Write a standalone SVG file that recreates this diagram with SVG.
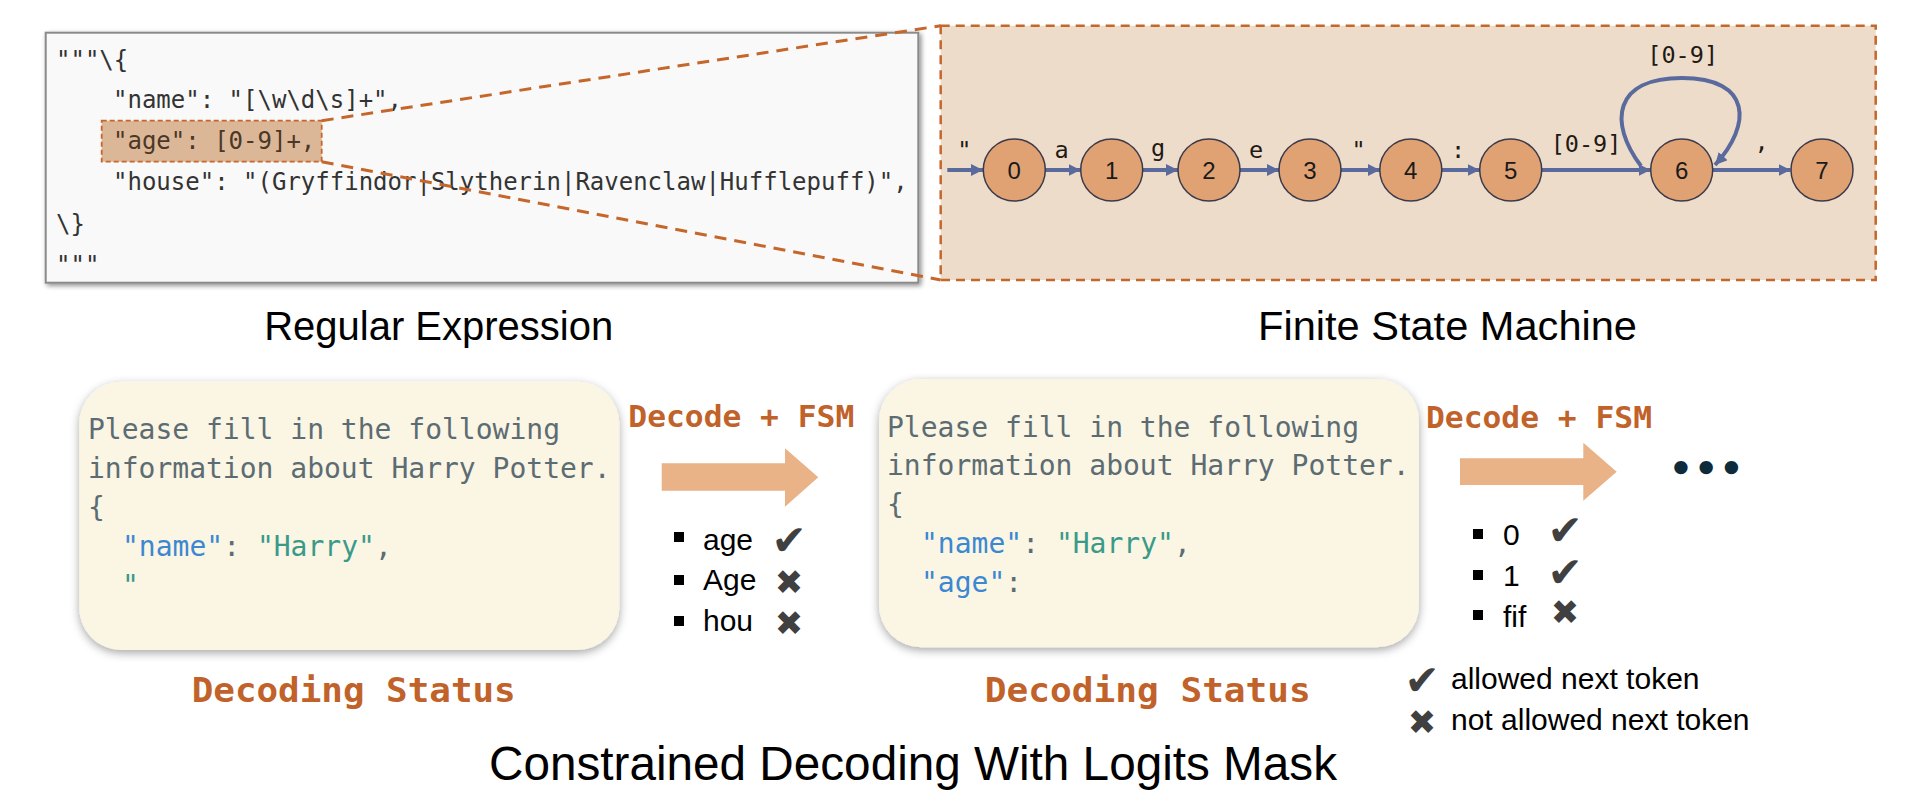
<svg xmlns="http://www.w3.org/2000/svg" width="1918" height="796" viewBox="0 0 1918 796">
  <defs>
    <style>
      .code { font-family: "DejaVu Sans Mono", "Liberation Mono", monospace; font-size: 24px; fill: #333333; }
      .prompt { font-family: "DejaVu Sans Mono", "Liberation Mono", monospace; font-size: 28px; fill: #5c6c73; }
      .blue { fill: #3b88d2; }
      .teal { fill: #3a9a8a; }
      .lbl { font-family: "DejaVu Sans Mono", "Liberation Mono", monospace; font-size: 23.5px; fill: #1f1a14; }
      .num { font-family: "Liberation Sans", Arial, sans-serif; font-size: 24px; fill: #1a1a1a; text-anchor: middle; }
      .orange { font-family: "DejaVu Sans Mono", "Liberation Mono", monospace; font-weight: bold; fill: #c0622a; }
      .head { font-family: "Liberation Sans", Arial, sans-serif; fill: #000000; text-anchor: middle; }
      .item { font-family: "Liberation Sans", Arial, sans-serif; font-size: 30px; fill: #000000; }
      .mark { font-family: "DejaVu Sans", sans-serif; fill: #404040; text-anchor: middle; }
      .chk { font-size: 42px; }
      .crs { font-size: 34px; }
      .node circle { fill: #e0a273; stroke: #3a3a4a; stroke-width: 1.5; }
      .edge { fill: none; stroke: #5a6a9c; stroke-width: 4; marker-end: url(#ah); }
      .zoomline { fill: none; stroke: #c5662a; stroke-width: 3; stroke-dasharray: 12 8; }
      .block { fill: #e9b387; }
      .bullet { fill: #000000; }
    </style>
    <marker id="ah" markerUnits="userSpaceOnUse" markerWidth="14" markerHeight="14" refX="12" refY="6" orient="auto">
      <path d="M0,0 L12,6 L0,12 z" fill="#5a6a9c"/>
    </marker>
    <filter id="sh1" x="-5%" y="-10%" width="110%" height="120%">
      <feDropShadow dx="2" dy="2" stdDeviation="2.5" flood-color="#000000" flood-opacity="0.45"/>
    </filter>
    <filter id="sh2" x="-10%" y="-10%" width="120%" height="125%">
      <feDropShadow dx="0" dy="3" stdDeviation="5" flood-color="#000000" flood-opacity="0.35"/>
    </filter>
  </defs>
  <rect x="0" y="0" width="1918" height="796" fill="#ffffff"/>

  <!-- Regular expression panel -->
  <g id="regex-box">
    <rect x="45.7" y="32.7" width="872.6" height="250" fill="#f9f9f9" stroke="#8a8a8a" stroke-width="2" filter="url(#sh1)"/>
    <rect x="101.7" y="120.7" width="220" height="41" fill="#dcb797" stroke="#c5662a" stroke-width="1.8" stroke-dasharray="5 3"/>
    <text class="code" x="56" y="68">"""\{</text>
    <text class="code" x="113" y="108">"name": "[\w\d\s]+",</text>
    <text class="code" x="113" y="149" style="fill:#4a3828">"age": [0-9]+,</text>
    <text class="code" x="113" y="190">"house": "(Gryffindor|Slytherin|Ravenclaw|Hufflepuff)",</text>
    <text class="code" x="56" y="232">\}</text>
    <text class="code" x="56" y="273">"""</text>
  </g>

  <!-- FSM panel -->
  <g id="fsm-box">
    <rect x="940.7" y="25.7" width="935" height="254.3" fill="#eedccb" stroke="#c5662a" stroke-width="2.5" stroke-dasharray="9 6"/>
  </g>

  <g id="connectors">
    <line class="zoomline" x1="321.7" y1="120.7" x2="940.7" y2="25.7"/>
    <line class="zoomline" x1="321.7" y1="161.7" x2="940.7" y2="280"/>
    <line class="edge" x1="947.3" y1="170" x2="983" y2="170"/>
    <line class="edge" x1="1045.3" y1="170" x2="1080.5" y2="170"/>
    <line class="edge" x1="1142.7" y1="170" x2="1178" y2="170"/>
    <line class="edge" x1="1240" y1="170" x2="1279" y2="170"/>
    <line class="edge" x1="1341" y1="170" x2="1379.8" y2="170"/>
    <line class="edge" x1="1441.8" y1="170" x2="1479.7" y2="170"/>
    <line class="edge" x1="1541.7" y1="170" x2="1650.5" y2="170"/>
    <path class="edge" d="M1641,166 C1608,122 1614,78 1682,78 C1752,78 1752,125 1715,165"/>
    <line class="edge" x1="1712.7" y1="170" x2="1790.5" y2="170"/>
    <text class="lbl" x="964.3" y="158" text-anchor="middle">"</text>
    <text class="lbl" x="1061.7" y="158" text-anchor="middle">a</text>
    <text class="lbl" x="1158" y="156" text-anchor="middle">g</text>
    <text class="lbl" x="1256" y="158" text-anchor="middle">e</text>
    <text class="lbl" x="1358.5" y="158" text-anchor="middle">"</text>
    <text class="lbl" x="1458" y="158" text-anchor="middle">:</text>
    <text class="lbl" x="1586" y="152" text-anchor="middle">[0-9]</text>
    <text class="lbl" x="1682.7" y="63" text-anchor="middle">[0-9]</text>
    <text class="lbl" x="1761.7" y="150" text-anchor="middle">,</text>
  </g>

  <g id="node-0" class="node"><circle cx="1014.3" cy="170" r="31"/><text class="num" x="1014.3" y="178.5">0</text></g>
  <g id="node-1" class="node"><circle cx="1111.7" cy="170" r="31"/><text class="num" x="1111.7" y="178.5">1</text></g>
  <g id="node-2" class="node"><circle cx="1209" cy="170" r="31"/><text class="num" x="1209" y="178.5">2</text></g>
  <g id="node-3" class="node"><circle cx="1310" cy="170" r="31"/><text class="num" x="1310" y="178.5">3</text></g>
  <g id="node-4" class="node"><circle cx="1410.8" cy="170" r="31"/><text class="num" x="1410.8" y="178.5">4</text></g>
  <g id="node-5" class="node"><circle cx="1510.7" cy="170" r="31"/><text class="num" x="1510.7" y="178.5">5</text></g>
  <g id="node-6" class="node"><circle cx="1681.7" cy="170" r="31"/><text class="num" x="1681.7" y="178.5">6</text></g>
  <g id="node-7" class="node"><circle cx="1822" cy="170" r="31"/><text class="num" x="1822" y="178.5">7</text></g>

  <g id="headings">
    <text class="head" x="438.7" y="340" font-size="40" textLength="349" lengthAdjust="spacingAndGlyphs">Regular Expression</text>
    <text class="head" x="1447.5" y="340" font-size="40" textLength="379" lengthAdjust="spacingAndGlyphs">Finite State Machine</text>
    <text class="head" x="913" y="780" font-size="48" textLength="848" lengthAdjust="spacingAndGlyphs">Constrained Decoding With Logits Mask</text>
  </g>

  <!-- Decoding status 1 -->
  <g id="status-1">
    <rect x="79.3" y="381.7" width="540" height="268.3" rx="42" ry="42" fill="#fbf5e3" filter="url(#sh2)"/>
    <text class="prompt" x="88" y="439">Please fill in the following</text>
    <text class="prompt" x="88" y="478">information about Harry Potter.</text>
    <text class="prompt" x="88" y="517">{</text>
    <text class="prompt" x="122" y="556" xml:space="preserve"><tspan class="blue">"name"</tspan>: <tspan class="teal">"Harry"</tspan>,</text>
    <text class="prompt teal" x="122" y="595">"</text>
    <text class="orange" x="191.7" y="702" font-size="34" textLength="324" lengthAdjust="spacingAndGlyphs">Decoding Status</text>
  </g>

  <g id="step-1">
    <text class="orange" x="628.3" y="427" font-size="30" textLength="226" lengthAdjust="spacingAndGlyphs">Decode + FSM</text>
    <polygon class="block" points="661.7,463.3 785,463.3 785,448.3 818.3,477.3 785,506.7 785,490.7 661.7,490.7"/>
    <rect class="bullet" x="674" y="532" width="10" height="10"/>
    <rect class="bullet" x="674" y="575" width="10" height="10"/>
    <rect class="bullet" x="674" y="616" width="10" height="10"/>
    <text class="item" x="703" y="550">age</text>
    <text class="item" x="703" y="590">Age</text>
    <text class="item" x="703" y="631">hou</text>
    <text class="mark chk" x="789" y="555">✔</text>
    <text class="mark crs" x="789" y="594">✖</text>
    <text class="mark crs" x="789" y="635">✖</text>
  </g>

  <!-- Decoding status 2 -->
  <g id="status-2">
    <rect x="879" y="379" width="540" height="268.3" rx="42" ry="42" fill="#fbf5e3" filter="url(#sh2)"/>
    <text class="prompt" x="887" y="437">Please fill in the following</text>
    <text class="prompt" x="887" y="475">information about Harry Potter.</text>
    <text class="prompt" x="887" y="514">{</text>
    <text class="prompt" x="921" y="553" xml:space="preserve"><tspan class="blue">"name"</tspan>: <tspan class="teal">"Harry"</tspan>,</text>
    <text class="prompt" x="921" y="592"><tspan class="blue">"age"</tspan>:</text>
    <text class="orange" x="984.8" y="702" font-size="34" textLength="326" lengthAdjust="spacingAndGlyphs">Decoding Status</text>
  </g>

  <g id="step-2">
    <text class="orange" x="1426" y="428" font-size="30" textLength="226" lengthAdjust="spacingAndGlyphs">Decode + FSM</text>
    <polygon class="block" points="1460,458.3 1583.3,458.3 1583.3,442.7 1616.7,471.7 1583.3,500.7 1583.3,485 1460,485"/>
    <text x="1706.7" y="482" font-family="DejaVu Sans, sans-serif" font-size="38" font-weight="bold" fill="#0d2b3a" text-anchor="middle" letter-spacing="1">•••</text>
    <rect class="bullet" x="1473" y="529" width="10" height="10"/>
    <rect class="bullet" x="1473" y="570" width="10" height="10"/>
    <rect class="bullet" x="1473" y="610" width="10" height="10"/>
    <text class="item" x="1503" y="545">0</text>
    <text class="item" x="1503" y="586">1</text>
    <text class="item" x="1503" y="627">fif</text>
    <text class="mark chk" x="1565" y="545">✔</text>
    <text class="mark chk" x="1565" y="587">✔</text>
    <text class="mark crs" x="1565" y="624">✖</text>
  </g>

  <g id="legend">
    <text class="mark chk" x="1422" y="695">✔</text>
    <text class="item" x="1451" y="689" font-size="31.5">allowed next token</text>
    <text class="mark crs" x="1422" y="734">✖</text>
    <text class="item" x="1451" y="730" font-size="31.5">not allowed next token</text>
  </g>
</svg>
